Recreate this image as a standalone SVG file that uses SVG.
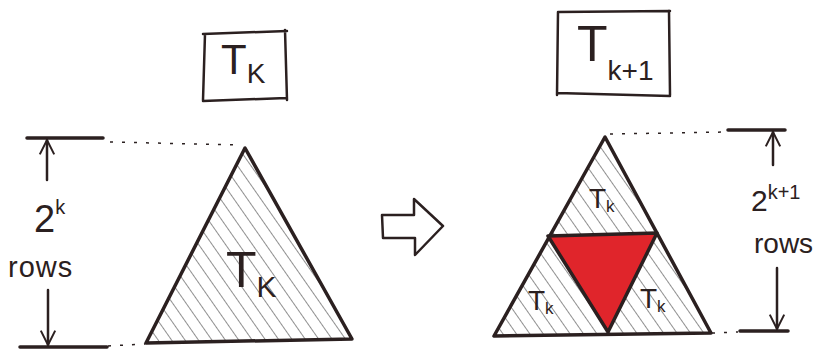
<svg xmlns="http://www.w3.org/2000/svg" width="820" height="350" viewBox="0 0 820 350">
<style>
.ink{stroke:#2b2020;fill:none;stroke-linecap:round;stroke-linejoin:round}
.hatched{fill:url(#hatch)}
.red{fill:#e0252b}
.thick{stroke-width:3.5}
.mid{stroke-width:2.5}
.dash{stroke:#2b2020;stroke-width:1.5;stroke-dasharray:3 9;fill:none}
.lbl{font-family:"Liberation Sans",Arial,sans-serif;fill:#2b2020}
</style>
<defs>
<pattern id="hatch" patternUnits="userSpaceOnUse" width="11" height="11" patternTransform="rotate(-35)">
<line x1="0" y1="0" x2="0" y2="11" stroke="#333" stroke-width="1.1"/>
</pattern>
<marker id="ah" viewBox="0 0 20 20" refX="18" refY="10" markerWidth="18" markerHeight="18" markerUnits="userSpaceOnUse" orient="auto">
<path d="M2,2 L18,10 L2,18" fill="none" stroke="#2b2020" stroke-width="2.2"/>
</marker>
</defs>
<rect width="820" height="350" fill="#fff"/>

<g id="box-left">
<path class="ink mid" d="M203,34 L287,31 M205,34 L203,100 M285,30 L287,100 M203,101 L286,98"/>
<text class="lbl" x="221" y="74" font-size="42">T<tspan font-size="28" dy="9">K</tspan></text>
</g>

<g id="box-right">
<path class="ink mid" d="M558,12 L670,11 M558,12 L557,95 M669,11 L670,95 M557,93 L670,96"/>
<text class="lbl" x="577" y="61" font-size="50">T<tspan font-size="28" dy="19">k+1</tspan></text>
</g>

<g id="tri-left">
<polygon points="245,148 146,343 352,339" class="ink thick hatched"/>
<text class="lbl" x="226" y="287" font-size="50">T<tspan font-size="30" dy="10">K</tspan></text>
</g>

<g id="tri-right">
<polygon points="605,137 494,336 711,333" class="ink thick hatched"/>
<polygon points="548,236 657,233 608,332" class="ink thick red"/>
<text class="lbl" x="589" y="208" font-size="28">T<tspan font-size="17" dy="4">k</tspan></text>
<text class="lbl" x="528" y="310" font-size="28">T<tspan font-size="17" dy="4">k</tspan></text>
<text class="lbl" x="640" y="308" font-size="28">T<tspan font-size="17" dy="4">k</tspan></text>
</g>

<g id="implies">
<path class="ink mid" d="M382,215 L414,215 L414,199 L443,226 L415,255 L415,238 L383,238 Z"/>
</g>

<g id="dim-left">
<path class="ink thick" d="M27,138 L103,138 M20,347 L107,347"/>
<text class="lbl" x="34" y="232" font-size="38">2<tspan font-size="20" dy="-18">k</tspan></text>
<text class="lbl" x="8" y="277" font-size="29" letter-spacing="1">rows</text>
</g>

<g id="dim-right">
<path class="ink thick" d="M728,130 L785,130 M740,331 L788,331"/>
<text class="lbl" x="751" y="211" font-size="30">2<tspan font-size="20" dy="-12">k+1</tspan></text>
<text class="lbl" x="754" y="253" font-size="28">rows</text>
</g>

<g id="connectors">
<line class="ink mid" x1="47" y1="180" x2="47" y2="140" marker-end="url(#ah)"/>
<line class="ink mid" x1="48" y1="290" x2="48" y2="345" marker-end="url(#ah)"/>
<line class="ink mid" x1="773" y1="165" x2="773" y2="132" marker-end="url(#ah)"/>
<line class="ink mid" x1="777" y1="268" x2="777" y2="329" marker-end="url(#ah)"/>
<path class="dash" d="M110,142 L240,145"/>
<path class="dash" d="M108,346 L145,344"/>
<path class="dash" d="M610,134 L727,132"/>
<path class="dash" d="M712,333 L738,332"/>
</g>
</svg>
